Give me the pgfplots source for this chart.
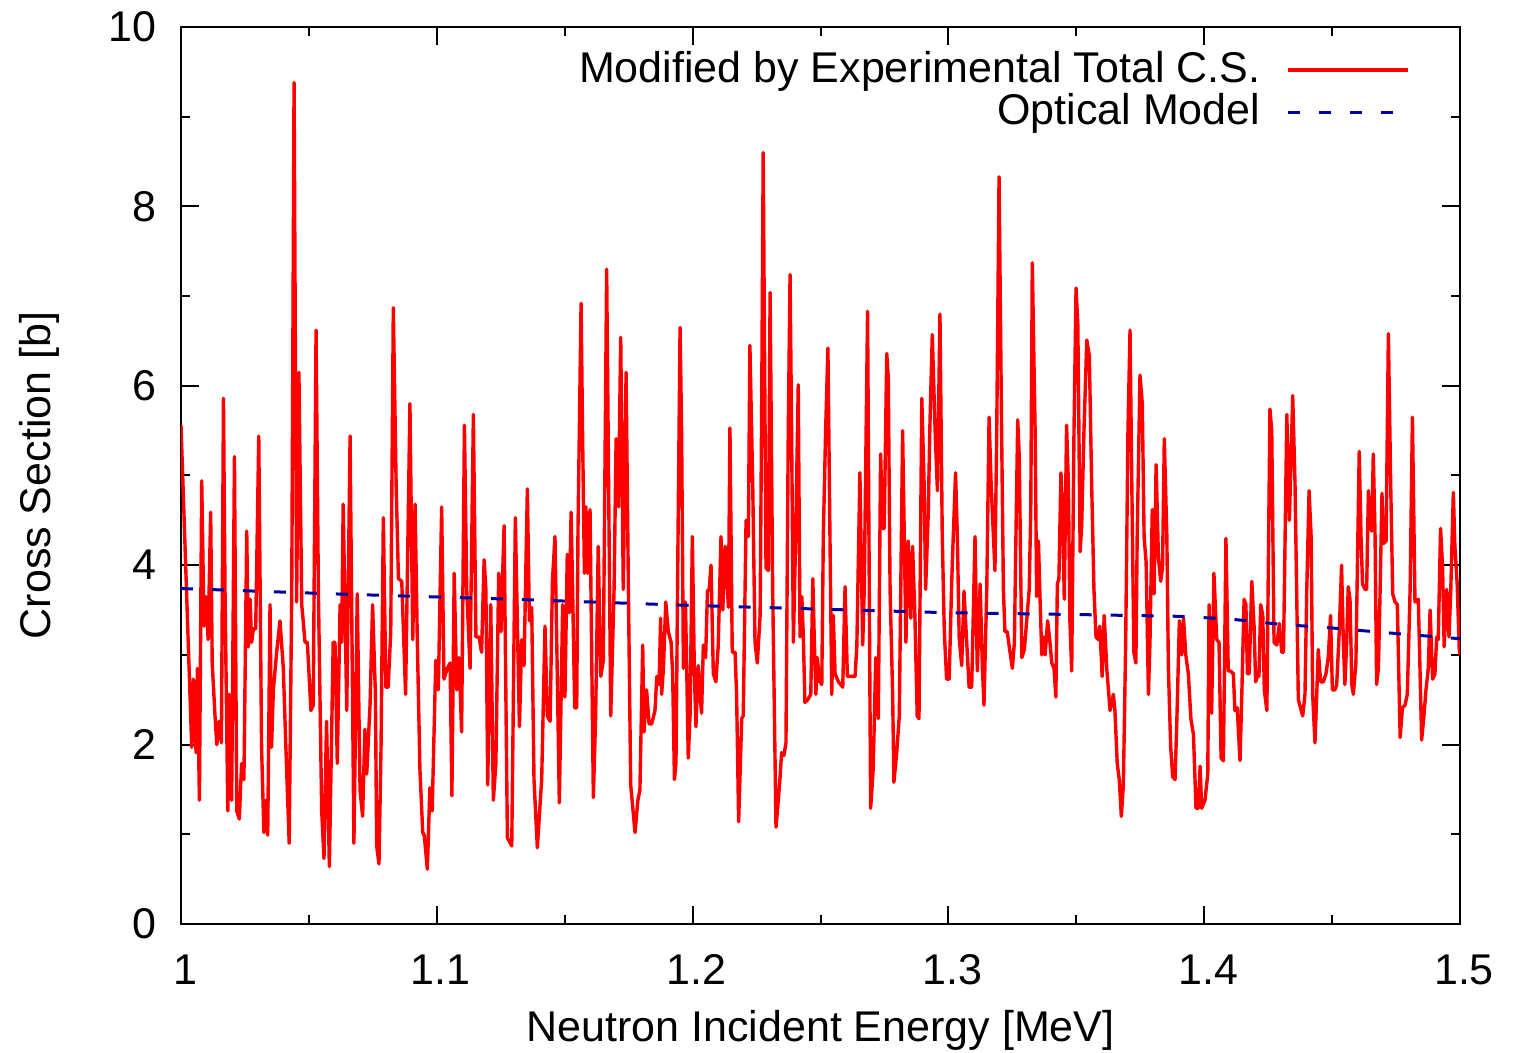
\documentclass[border=0pt]{standalone}
\usepackage{fontspec}
\setmainfont{Liberation Sans}
\usepackage{pgfplots}
\usepackage{pgfplotstable}
\pgfplotsset{compat=1.18}
\definecolor{dblue}{RGB}{0,0,160}

\pgfplotstableread{
x y
1.0000 5.56
1.0042 1.97
1.0048 2.73
1.0059 1.91
1.0064 2.85
1.0072 1.38
1.0081 4.94
1.0090 3.32
1.0098 3.65
1.0106 3.17
1.0116 4.59
1.0122 2.91
1.0133 2.32
1.0140 2.00
1.0149 2.26
1.0158 2.02
1.0166 5.86
1.0172 3.73
1.0183 1.26
1.0189 2.56
1.0198 1.38
1.0209 5.21
1.0218 1.26
1.0228 1.17
1.0237 1.79
1.0246 1.61
1.0257 4.38
1.0263 3.09
1.0270 3.62
1.0276 3.14
1.0283 3.29
1.0292 3.29
1.0304 5.44
1.0315 1.97
1.0324 1.02
1.0332 1.38
1.0339 0.99
1.0348 3.56
1.0354 1.97
1.0361 2.61
1.0374 3.03
1.0387 3.38
1.0400 2.85
1.0410 1.97
1.0423 0.90
1.0433 3.73
1.0442 9.38
1.0452 3.59
1.0461 6.15
1.0472 3.56
1.0485 3.14
1.0494 3.14
1.0508 2.38
1.0517 2.44
1.0528 6.62
1.0537 3.73
1.0550 1.26
1.0559 0.73
1.0569 2.26
1.0580 0.64
1.0595 3.14
1.0602 3.14
1.0611 1.79
1.0622 3.56
1.0628 3.14
1.0634 4.68
1.0648 2.38
1.0661 5.44
1.0676 0.90
1.0689 3.68
1.0700 1.49
1.0710 1.20
1.0719 2.17
1.0726 1.67
1.0739 2.44
1.0749 3.56
1.0760 2.56
1.0765 0.87
1.0774 0.67
1.0782 1.97
1.0791 4.53
1.0801 2.64
1.0810 2.64
1.0820 3.26
1.0830 6.87
1.0841 4.91
1.0850 3.85
1.0863 3.82
1.0878 2.56
1.0895 5.80
1.0906 3.17
1.0915 4.68
1.0924 3.14
1.0934 1.73
1.0945 1.02
1.0951 0.99
1.0963 0.61
1.0973 1.52
1.0982 1.26
1.0996 2.94
1.1006 2.61
1.1019 4.65
1.1028 2.73
1.1041 2.85
1.1052 2.91
1.1059 1.43
1.1068 3.91
1.1078 2.61
1.1087 2.97
1.1097 2.14
1.1108 5.56
1.1117 3.73
1.1130 2.85
1.1143 5.68
1.1153 3.20
1.1165 3.20
1.1175 3.03
1.1185 4.06
1.1192 3.73
1.1199 1.55
1.1211 3.56
1.1221 1.38
1.1231 1.79
1.1242 3.91
1.1251 3.26
1.1263 4.44
1.1276 0.96
1.1293 0.87
1.1307 4.53
1.1323 2.20
1.1332 3.17
1.1341 2.88
1.1354 4.85
1.1362 3.38
1.1371 3.53
1.1380 1.61
1.1393 0.85
1.1410 1.61
1.1423 3.32
1.1432 2.32
1.1443 2.26
1.1452 3.82
1.1462 4.32
1.1469 3.14
1.1479 1.35
1.1492 3.56
1.1501 2.53
1.1510 4.12
1.1518 3.47
1.1525 4.59
1.1531 3.73
1.1539 2.41
1.1547 2.41
1.1552 4.41
1.1564 6.92
1.1570 5.44
1.1577 3.91
1.1583 4.65
1.1590 3.91
1.1599 4.62
1.1612 1.41
1.1621 2.32
1.1631 4.21
1.1641 2.76
1.1651 2.94
1.1664 7.30
1.1680 2.32
1.1693 3.73
1.1701 5.41
1.1710 4.65
1.1719 6.54
1.1729 3.73
1.1740 6.15
1.1749 3.73
1.1758 1.55
1.1775 1.02
1.1786 1.38
1.1794 1.49
1.1805 3.11
1.1810 2.14
1.1820 2.61
1.1830 2.23
1.1840 2.23
1.1853 2.38
1.1860 2.76
1.1869 2.67
1.1875 3.41
1.1879 2.56
1.1886 2.85
1.1895 3.59
1.1905 3.26
1.1916 3.14
1.1922 2.79
1.1929 1.61
1.1935 1.79
1.1944 4.62
1.1951 6.65
1.1957 5.50
1.1964 2.85
1.1972 3.59
1.1977 2.85
1.1983 1.85
1.1990 2.32
1.1999 4.32
1.2007 2.79
1.2013 2.20
1.2022 2.88
1.2029 2.56
1.2035 2.35
1.2042 3.11
1.2051 2.97
1.2058 3.71
1.2065 3.73
1.2072 4.00
1.2081 2.79
1.2091 2.70
1.2100 3.09
1.2111 4.32
1.2118 3.50
1.2127 4.21
1.2140 3.53
1.2146 5.53
1.2155 3.03
1.2166 3.03
1.2172 2.56
1.2180 1.14
1.2192 2.29
1.2198 2.32
1.2209 4.50
1.2218 4.32
1.2224 6.45
1.2235 4.91
1.2244 3.14
1.2253 2.91
1.2264 3.44
1.2270 5.74
1.2276 8.60
1.2287 3.97
1.2296 3.94
1.2303 7.04
1.2313 3.73
1.2326 1.08
1.2335 1.38
1.2342 1.64
1.2348 1.91
1.2357 1.88
1.2365 2.02
1.2374 5.50
1.2381 7.24
1.2387 5.50
1.2394 3.14
1.2403 4.32
1.2413 6.01
1.2420 3.20
1.2427 3.65
1.2433 3.20
1.2439 2.47
1.2450 2.50
1.2462 2.56
1.2470 3.85
1.2476 3.14
1.2482 2.56
1.2487 2.97
1.2498 2.70
1.2505 2.67
1.2511 4.32
1.2520 5.50
1.2529 6.42
1.2537 4.32
1.2544 2.56
1.2550 3.44
1.2557 2.79
1.2570 2.70
1.2587 2.64
1.2596 3.76
1.2605 2.76
1.2618 2.76
1.2635 2.76
1.2642 3.09
1.2654 5.03
1.2665 3.11
1.2671 3.73
1.2684 6.83
1.2696 1.29
1.2706 1.73
1.2716 2.97
1.2726 2.29
1.2735 5.24
1.2743 4.41
1.2749 4.41
1.2759 6.36
1.2765 6.09
1.2772 3.73
1.2782 2.56
1.2787 1.58
1.2798 1.91
1.2808 2.32
1.2821 5.50
1.2834 3.14
1.2843 4.27
1.2853 3.41
1.2860 4.21
1.2869 3.44
1.2878 2.32
1.2885 2.29
1.2896 5.86
1.2905 4.91
1.2911 3.73
1.2921 4.56
1.2928 5.59
1.2937 6.57
1.2948 5.50
1.2957 4.83
1.2967 6.80
1.2976 4.32
1.2984 3.26
1.2993 2.73
1.3003 2.73
1.3013 3.82
1.3019 4.32
1.3028 5.03
1.3035 4.32
1.3042 3.20
1.3052 2.88
1.3061 3.71
1.3071 3.17
1.3081 2.64
1.3091 2.64
1.3104 4.32
1.3113 2.82
1.3124 3.79
1.3133 2.85
1.3139 2.44
1.3150 3.73
1.3159 5.65
1.3167 4.91
1.3176 4.32
1.3182 3.94
1.3189 5.50
1.3198 8.33
1.3208 5.50
1.3215 3.73
1.3221 3.26
1.3230 3.26
1.3238 3.09
1.3250 2.85
1.3258 3.14
1.3264 4.32
1.3271 5.62
1.3277 5.21
1.3287 2.97
1.3297 3.06
1.3306 3.38
1.3316 3.73
1.3322 4.62
1.3328 7.37
1.3339 5.50
1.3345 3.65
1.3352 4.27
1.3358 3.65
1.3365 3.00
1.3371 3.20
1.3378 3.00
1.3388 3.38
1.3397 3.14
1.3404 2.91
1.3413 2.85
1.3420 2.53
1.3426 3.79
1.3432 3.85
1.3440 5.03
1.3447 4.56
1.3453 3.62
1.3462 5.56
1.3469 4.91
1.3475 3.38
1.3482 2.82
1.3491 5.50
1.3499 7.09
1.3506 6.68
1.3515 4.15
1.3521 4.44
1.3530 5.50
1.3541 6.51
1.3551 6.33
1.3560 4.91
1.3569 3.73
1.3577 3.20
1.3586 3.17
1.3592 3.32
1.3601 2.76
1.3609 3.44
1.3619 2.85
1.3632 2.38
1.3645 2.56
1.3651 2.38
1.3660 1.79
1.3668 1.61
1.3676 1.20
1.3684 1.55
1.3693 3.14
1.3702 5.50
1.3710 6.62
1.3717 4.91
1.3725 3.03
1.3733 2.91
1.3738 4.32
1.3749 6.12
1.3758 5.80
1.3765 4.32
1.3773 4.03
1.3782 2.56
1.3788 3.14
1.3797 4.62
1.3804 3.68
1.3812 5.12
1.3821 4.09
1.3830 3.82
1.3837 3.97
1.3844 5.41
1.3854 4.32
1.3860 2.85
1.3869 1.97
1.3877 1.64
1.3886 1.61
1.3893 2.26
1.3903 3.38
1.3912 3.00
1.3919 3.41
1.3928 3.00
1.3938 2.79
1.3948 2.29
1.3958 2.11
1.3968 1.29
1.3977 1.29
1.3984 1.76
1.3990 1.29
1.4003 1.38
1.4014 1.67
1.4019 3.56
1.4029 2.35
1.4038 3.91
1.4049 3.17
1.4058 3.14
1.4066 1.85
1.4075 1.82
1.4085 4.30
1.4094 2.82
1.4103 2.82
1.4114 2.79
1.4120 2.38
1.4129 2.41
1.4140 1.82
1.4147 2.56
1.4156 3.62
1.4163 3.56
1.4169 2.79
1.4176 2.79
1.4186 3.82
1.4195 3.32
1.4201 2.70
1.4208 2.76
1.4214 2.76
1.4221 3.56
1.4229 3.44
1.4235 2.61
1.4245 2.38
1.4257 5.74
1.4264 5.50
1.4273 3.14
1.4284 3.11
1.4294 3.35
1.4303 3.03
1.4310 3.03
1.4323 5.68
1.4333 4.50
1.4346 5.89
1.4355 4.91
1.4368 2.50
1.4385 2.32
1.4394 2.56
1.4401 3.73
1.4410 4.83
1.4418 4.32
1.4424 2.56
1.4433 2.02
1.4440 2.56
1.4446 3.06
1.4455 2.70
1.4466 2.70
1.4476 2.79
1.4485 2.97
1.4494 3.44
1.4501 2.61
1.4511 2.61
1.4518 2.67
1.4528 3.26
1.4537 4.00
1.4544 3.14
1.4550 2.67
1.4557 3.14
1.4563 3.76
1.4570 3.62
1.4577 2.67
1.4583 2.56
1.4593 2.91
1.4606 5.27
1.4613 4.32
1.4619 3.79
1.4629 3.73
1.4635 3.73
1.4642 4.83
1.4648 4.44
1.4655 4.38
1.4661 5.24
1.4668 4.32
1.4674 2.67
1.4681 2.85
1.4687 3.62
1.4695 4.80
1.4700 4.24
1.4711 4.27
1.4720 6.58
1.4729 4.91
1.4737 3.68
1.4746 3.59
1.4755 3.56
1.4766 2.08
1.4775 2.41
1.4785 2.44
1.4794 2.56
1.4805 3.73
1.4814 5.65
1.4824 3.59
1.4837 3.62
1.4844 2.79
1.4850 2.05
1.4859 2.32
1.4867 2.61
1.4876 2.85
1.4883 3.50
1.4893 2.73
1.4902 2.79
1.4909 3.20
1.4915 3.17
1.4924 4.41
1.4932 3.97
1.4938 3.09
1.4948 3.73
1.4957 3.20
1.4964 3.73
1.4974 4.81
1.4980 4.21
1.4989 3.79
1.4997 3.06
1.5000 3.00
}\modified

\pgfplotstableread{
x y
1.00 3.74
1.06 3.68
1.13 3.62
1.19 3.56
1.25 3.51
1.30 3.47
1.35 3.45
1.39 3.43
1.41 3.40
1.43 3.34
1.45 3.30
1.47 3.25
1.50 3.18
}\optical

\begin{document}
\fontsize{21.5}{26}\selectfont
\begin{tikzpicture}
\begin{axis}[
  scale only axis, width=639.5pt, height=448.5pt,
  xmin=1, xmax=1.5, ymin=0, ymax=10,
  xtick={1,1.1,1.2,1.3,1.4,1.5},
  xticklabels={1,1.1,1.2,1.3,1.4,1.5},
  minor xtick={1.05,1.15,1.25,1.35,1.45},
  ytick={0,2,4,6,8,10},
  minor ytick={1,3,5,7,9},
  tick align=inside,
  xtick pos=both, ytick pos=both,
  major tick length=9pt, minor tick length=4.5pt,
  tick style={black, line width=1pt},
  axis line style={line width=1.4pt},
  /pgf/number format/assume math mode=true,
  ticklabel style={font=\fontsize{21.5}{26}\selectfont},
  xticklabel style={yshift=-8pt, xshift=2pt},
  yticklabel style={xshift=-5pt},
  xlabel={Neutron Incident Energy [MeV]},
  ylabel={Cross Section [b]},
  label style={font=\fontsize{21.5}{26}\selectfont},
  xlabel style={at={(axis description cs:0.5,-0.1182)},anchor=center},
  ylabel style={at={(axis description cs:-0.1110,0.5)},anchor=center},
  legend style={draw=none, fill=none, at={(axis description cs:0.9656,0.9825)}, anchor=north east,
    font=\fontsize{21.5}{26}\selectfont, row sep=-1.5pt},
  legend cell align=right,
  legend plot pos=right,
  legend image code/.code={\path (0pt,0pt); \draw[#1] (11pt,0pt) -- (71pt,0pt);},
]
\addplot[red, line width=1.7pt, line join=round] table {\modified};
\addlegendentry{Modified by Experimental Total C.S.}
\addplot[dblue, line width=1.5pt, dash pattern=on 6pt off 9.5pt] table {\optical};
\addlegendentry{Optical Model}
\coordinate (sw) at (rel axis cs:0,0);
\coordinate (ne) at (rel axis cs:1,1);
\end{axis}
\pgfresetboundingbox
\path[use as bounding box] ([xshift=-90.5pt,yshift=-64.5pt]sw) rectangle ([xshift=30pt,yshift=13.5pt]ne);
\end{tikzpicture}
\end{document}
